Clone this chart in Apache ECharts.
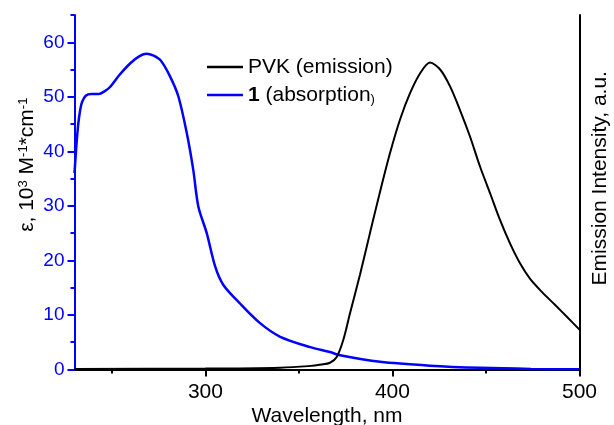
<!DOCTYPE html>
<html>
<head>
<meta charset="utf-8">
<script src="https://cdn.jsdelivr.net/npm/echarts@6/dist/echarts.min.js"></script>
<style>html,body{margin:0;padding:0;background:#fff}#c{width:614px;height:425px}</style>
</head>
<body>
<div id="c"></div>
<script>
// Absorption of compound 1 (epsilon, 10^3 M^-1 cm^-1)
var absWl  = [230, 231, 232, 233, 234, 236, 239, 243, 246, 249, 254, 260, 265, 268.5, 272, 276, 281, 285.5, 290, 293.5, 296.2, 300.7, 305.2, 309.6, 318.5, 329.2, 340, 356, 366.6, 372, 393.4, 420, 447, 474, 500];
var absVal = [36, 41, 45, 47.5, 49, 50.2, 50.5, 50.5, 51, 51.8, 54.0, 56.2, 57.5, 57.9, 57.6, 56.7, 53.8, 50.1, 43.4, 36.6, 29.9, 25, 18.9, 15.5, 12.1, 8.5, 6.0, 4.1, 3.2, 2.6, 1.4, 0.7, 0.3, 0.1, 0.05];
// PVK emission (normalised a.u.)
var emWl  = [230, 300, 340, 355, 362, 366.6, 370.2, 373.7, 377.3, 382.7, 388, 393.4, 398.7, 404.1, 409.4, 414.8, 420.1, 425.5, 430.8, 436.1, 441.5, 446.8, 452.2, 457.5, 462.9, 468.2, 473.6, 480, 487, 493.5, 500];
var emVal = [0.002, 0.003, 0.006, 0.011, 0.016, 0.022, 0.041, 0.096, 0.183, 0.31, 0.445, 0.58, 0.705, 0.815, 0.90, 0.965, 1.0, 0.977, 0.922, 0.845, 0.758, 0.661, 0.574, 0.487, 0.410, 0.346, 0.295, 0.252, 0.210, 0.170, 0.130];
var xLabels = [300, 400, 500];
var xMinor = [250, 350, 450];
var yLabels = [0, 10, 20, 30, 40, 50, 60];
var yMinor = [5, 15, 25, 35, 45, 55, 65];

function pairs(xs, ys){ return xs.map(function(x, i){ return [x, ys[i]]; }); }

var FONT = 'Liberation Sans, Arial, sans-serif';
var chart = echarts.init(document.getElementById('c'));
chart.setOption({
  animation: false,
  backgroundColor: '#fff',
  textStyle: { fontFamily: FONT },
  grid: { left: 74.5, right: 34.5, top: 15, bottom: 55.5, containLabel: false, outerBoundsMode: 'none' },
  legend: {
    orient: 'vertical', left: 207, top: 56, padding: 0, itemGap: 6,
    itemWidth: 36, itemHeight: 2.5, icon: 'rect',
    textStyle: { fontFamily: FONT, fontSize: 21, color: '#000', lineHeight: 22,
      rich: {
        b: { fontFamily: FONT, fontSize: 21, fontWeight: 'bold', color: '#000' },
        n: { fontFamily: FONT, fontSize: 21, color: '#000' },
        s: { fontFamily: FONT, fontSize: 13, color: '#000', verticalAlign: 'bottom' }
      } },
    formatter: function(name){
      if (name === '1 (absorption)') return '{b|1}{n| (absorption}{s|)}';
      return name;
    },
    data: ['PVK (emission)', '1 (absorption)']
  },
  xAxis: [{
    type: 'value', min: 230, max: 500, position: 'bottom',
    axisLine: { show: true, lineStyle: { color: '#000', width: 2 } },
    axisTick: { show: true, inside: false, length: 7, lineStyle: { color: '#000', width: 2 }, customValues: xLabels },
    axisLabel: { fontSize: 21, color: '#000', margin: 12, fontFamily: FONT, customValues: xLabels },
    splitLine: { show: false },
    name: 'Wavelength, nm', nameLocation: 'middle', nameGap: 36, nameMoveOverlap: false,
    nameTextStyle: { fontSize: 21, color: '#000', fontFamily: FONT }
  }, {
    type: 'value', min: 230, max: 500, position: 'bottom',
    axisLine: { show: false },
    axisTick: { show: true, inside: false, length: 4, lineStyle: { color: '#000', width: 2 }, customValues: xMinor },
    axisLabel: { show: false },
    splitLine: { show: false }
  }],
  yAxis: [{
    type: 'value', min: 0, max: 65, position: 'left',
    axisLine: { show: true, lineStyle: { color: '#0000ff', width: 2 } },
    axisTick: { show: true, inside: false, length: 7, lineStyle: { color: '#0000ff', width: 2 }, customValues: yLabels },
    axisLabel: { fontSize: 19, color: '#0000ff', margin: 10, fontFamily: FONT, customValues: yLabels },
    splitLine: { show: false },
    name: 'ε, 10{sup|3} M{sup|-1}*cm{sup|-1}', nameLocation: 'middle', nameGap: 36, nameRotate: 90, nameMoveOverlap: false,
    nameTextStyle: { fontSize: 21, color: '#000', fontFamily: FONT, padding: [0, 0, 0, 55], lineHeight: 22,
      rich: { sup: { fontSize: 13, color: '#000', fontFamily: FONT, verticalAlign: 'top' } } }
  }, {
    type: 'value', min: 0, max: 1.1545, position: 'right',
    axisLine: { show: true, lineStyle: { color: '#000', width: 2 } },
    axisTick: { show: false }, axisLabel: { show: false }, splitLine: { show: false },
    name: 'Emission Intensity, a.u.', nameLocation: 'middle', nameGap: 10, nameRotate: 90, nameMoveOverlap: false,
    nameTextStyle: { fontSize: 21, color: '#000', fontFamily: FONT, padding: [0, 0, 0, 28] }
  }, {
    type: 'value', min: 0, max: 65, position: 'left',
    axisLine: { show: false },
    axisTick: { show: true, inside: false, length: 4, lineStyle: { color: '#0000ff', width: 2 }, customValues: yMinor },
    axisLabel: { show: false }, splitLine: { show: false }
  }],
  series: [{
    name: '1 (absorption)', type: 'line', xAxisIndex: 0, yAxisIndex: 0,
    data: pairs(absWl, absVal), showSymbol: false, smooth: 0.3,
    lineStyle: { color: '#0000ff', width: 2.5 }, itemStyle: { color: '#0000ff' }, z: 2
  }, {
    name: 'PVK (emission)', type: 'line', xAxisIndex: 0, yAxisIndex: 1,
    data: pairs(emWl, emVal), showSymbol: false, smooth: 0.3,
    lineStyle: { color: '#000', width: 2 }, itemStyle: { color: '#000' }, z: 3
  }]
});
</script>
</body>
</html>
